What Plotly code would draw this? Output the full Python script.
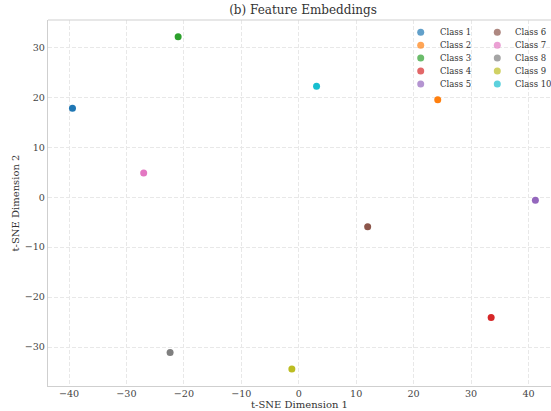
import plotly.graph_objects as go

classes = ["Class 1", "Class 2", "Class 3", "Class 4", "Class 5",
           "Class 6", "Class 7", "Class 8", "Class 9", "Class 10"]
x_vals = [-39.4, 24.2, -21.0, 33.5, 41.2, 12.0, -27.0, -22.4, -1.2, 3.1]
y_vals = [17.8, 19.5, 32.1, -24.1, -0.6, -5.95, 4.85, -31.1, -34.4, 22.2]
colors = ["#1f77b4", "#ff7f0e", "#2ca02c", "#d62728", "#9467bd",
          "#8c564b", "#e377c2", "#7f7f7f", "#bcbd22", "#17becf"]
x_ticks = [-40, -30, -20, -10, 0, 10, 20, 30, 40]
y_ticks = [-30, -20, -10, 0, 10, 20, 30]

FONT = "DejaVu Serif"
W, H = 551, 411
ML, MR, MT, MB = 48, 0, 20, 25
PW, PH = W - ML - MR, H - MT - MB

def px_x(px):
    return (px - ML) / PW

def px_y(py):
    return (H - MB - py) / PH

fig = go.Figure()
for name, xv, yv, c in zip(classes, x_vals, y_vals, colors):
    fig.add_trace(go.Scatter(x=[xv], y=[yv], mode="markers", name=name,
                             marker=dict(color=c, size=7, line=dict(width=0)),
                             showlegend=False, hoverinfo="name+x+y"))

# legend: two columns of five, drawn via hidden overlay axes
leg_mx, leg_my, leg_ann = [], [], []
for i, name in enumerate(classes):
    col, row = divmod(i, 5)
    mx = [420.7, 497.3][col]
    tx = [437.5, 512.5][col]
    ry = 32.3 + 12.9 * row
    leg_mx.append(px_x(mx))
    leg_my.append(px_y(ry))
    leg_ann.append(dict(text=name, x=px_x(tx), y=px_y(ry), xref="paper", yref="paper",
                        xanchor="left", yanchor="middle", showarrow=False,
                        font=dict(family=FONT, size=8.5, color="#333")))
fig.add_trace(go.Scatter(x=leg_mx, y=leg_my, xaxis="x2", yaxis="y2", mode="markers",
                         marker=dict(color=colors, size=7, opacity=0.7, line=dict(width=0)),
                         showlegend=False, hoverinfo="skip"))

axis_common = dict(showgrid=True, gridcolor="#e8e8e8", griddash="4px,2px", gridwidth=1,
                   zeroline=False, showline=True, linecolor="#cfcfcf", linewidth=1.2,
                   ticks="", tickfont=dict(family=FONT, size=9.6, color="#444"),
                   title_font=dict(family=FONT, size=10, color="#333"), automargin=False)

fig.update_layout(
    width=W, height=H,
    margin=dict(l=ML, r=MR, t=MT, b=MB, autoexpand=False),
    paper_bgcolor="white", plot_bgcolor="white",
    showlegend=False,
    title=dict(text="(b) Feature Embeddings", x=px_x(303), xanchor="center", y=0.975, yanchor="middle",
               xref="paper", font=dict(family=FONT, size=12, color="#333")),
    xaxis=dict(range=[-43.66, 43.92], tickvals=x_ticks, ticklabelstandoff=-2,
               title=dict(text="t-SNE Dimension 1", standoff=2), **axis_common),
    yaxis=dict(range=[-37.8, 35.45], tickvals=y_ticks, title=dict(text="t-SNE Dimension 2", standoff=3),
               **axis_common),
    xaxis2=dict(overlaying="x", range=[0, 1], visible=False, fixedrange=True),
    yaxis2=dict(overlaying="y", range=[0, 1], visible=False, fixedrange=True),
    annotations=leg_ann,
    shapes=[dict(type="line", xref="paper", yref="paper", x0=0, x1=1, y0=1, y1=1,
                 line=dict(color="#cfcfcf", width=1.2))],
)
fig.write_html("out.html", config={"displayModeBar": False},
               post_script="document.body.style.margin='0';document.body.style.overflow='hidden';")
